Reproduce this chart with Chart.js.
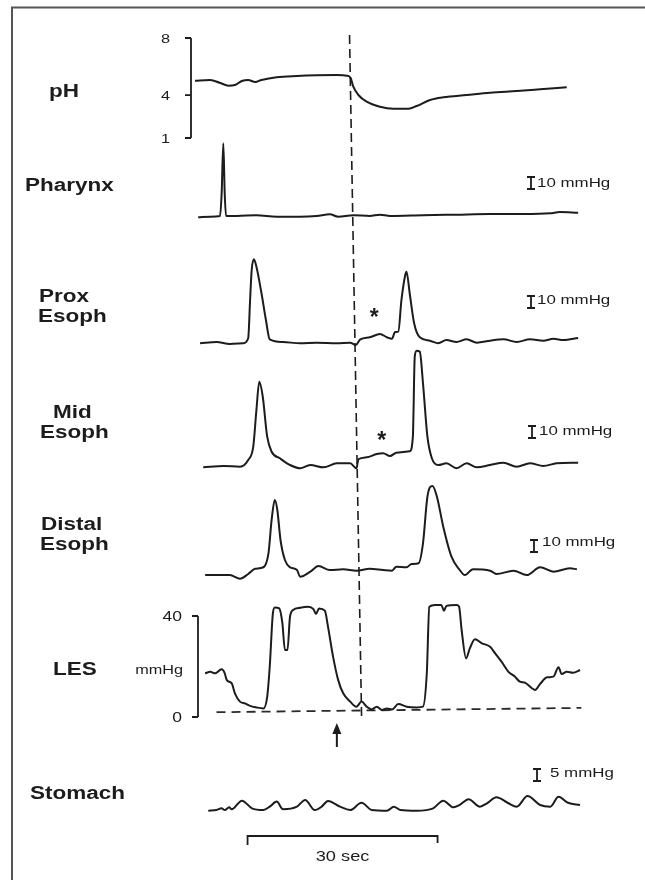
<!DOCTYPE html>
<html>
<head>
<meta charset="utf-8">
<title>Esophageal pH and manometry during a reflux episode</title>
<script src="https://cdn.jsdelivr.net/npm/chart.js@4.4.1/dist/chart.umd.min.js"></script>
<style>
  html, body { margin: 0; padding: 0; background: #fff; }
  canvas { display: block; }
</style>
</head>
<body>
<canvas id="trace" width="645" height="880"></canvas>
<script>
// time in seconds from the start of the strip, pressures in mmHg above resting baseline
const phTime = [0, 2.4, 3.9, 5.3, 6.3, 7.4, 8.4, 9.5, 10.5, 12.9, 16.1, 19.2, 22.4, 24.0, 24.6, 25.0, 25.8, 27.1, 29.2, 31.3, 33.7, 35.0, 37.1, 39.2, 42.9, 46.6, 50.8, 54.5, 58.7];
const phValue = [5.01, 5.06, 4.87, 4.66, 4.71, 4.99, 5.06, 4.92, 5.06, 5.25, 5.34, 5.39, 5.41, 5.36, 5.18, 4.59, 4.01, 3.54, 3.19, 3.05, 3.05, 3.24, 3.66, 3.85, 4.01, 4.17, 4.29, 4.41, 4.55];

const pharynxTime = [0.5, 2.4, 3.95, 4.21, 4.47, 4.69, 4.9, 6.6, 9.7, 12.9, 16.6, 19.2, 21.3, 22.6, 25.0, 27.6, 29.2, 30.8, 36.0, 41.3, 46.6, 51.8, 56.1, 57.6, 60.5];
const pharynxValue = [-0.5, 0, 0.6, 19.5, 61.2, 19.5, 0.6, 0.6, 1.2, 0, 0, 0.6, 2.0, 0, 1.2, 0.6, 1.7, 0.6, 1.2, 1.7, 2.2, 2.2, 2.8, 3.9, 3.3];

const proxTime = [0.8, 3.4, 5.5, 7.6, 8.4, 8.7, 8.95, 9.3, 9.7, 10.5, 11.2, 11.8, 13.9, 16.6, 19.2, 22.4, 24.5, 25.4, 26.1, 27.6, 29.2, 30.3, 31.1, 31.6, 32.1, 32.6, 33.2, 33.4, 33.9, 34.6, 35.5, 37.1, 38.4, 39.7, 41.3, 42.9, 44.5, 46.6, 48.7, 50.8, 52.9, 55.0, 56.6, 58.2, 60.5];
const proxValue = [-0.5, 0.6, -1.1, -0.5, 3.7, 35.6, 60.6, 69.5, 63.3, 41.2, 18.9, 2.8, 0.6, -0.5, 0, -0.5, 0, -1.9, 2.8, 4.5, 7.3, 4.5, 3.3, 8.9, 9.2, 35.6, 56.4, 59.2, 41.2, 16.2, 4.5, 1.7, -0.5, 2.2, 0.6, 2.8, 0, 1.7, 2.8, 0.6, 2.8, 1.7, 3.3, 2.2, 3.9];

const midTime = [1.3, 4.5, 7.1, 8.4, 9.2, 9.7, 10.15, 10.7, 11.4, 12.1, 13.4, 15.0, 16.6, 18.2, 20.3, 22.4, 24.5, 25.5, 25.8, 27.1, 28.7, 29.7, 30.8, 31.8, 33.9, 34.4, 34.7, 35.0, 35.5, 36.0, 36.7, 37.4, 38.4, 39.7, 41.3, 42.9, 44.5, 46.6, 48.7, 50.8, 52.9, 55.0, 57.1, 60.5];
const midValue = [-0.5, 0.6, 0, 5.6, 16.7, 47.3, 70.8, 58.3, 25.0, 12.5, 7.0, 1.4, -1.3, 1.4, -0.5, 2.8, 2.8, -1.3, 6.2, 7.8, 10.6, 11.2, 8.9, 11.7, 12.8, 25.0, 91.7, 96.7, 95.8, 69.5, 25.0, 7.0, 1.4, 2.8, -1.3, 2.8, -0.5, 1.4, 3.3, 0, 2.8, 0.6, 2.8, 3.3];

const distalTime = [1.6, 5.5, 7.1, 8.4, 9.5, 10.8, 11.6, 12.1, 12.6, 13.0, 13.5, 14.2, 15.0, 16.1, 16.6, 18.2, 19.5, 21.3, 23.4, 25.5, 27.6, 29.7, 31.1, 31.8, 33.4, 34.2, 35.3, 36.0, 36.7, 37.5, 38.2, 39.2, 40.5, 41.8, 42.6, 43.9, 46.6, 47.6, 50.3, 52.4, 54.5, 56.6, 59.2, 60.3];
const distalValue = [-4.2, -4.2, -7.3, -3.3, 1.1, 2.3, 13.9, 41.7, 58.3, 50.0, 25.0, 8.3, 2.3, 0, -5.6, -1.4, 3.3, 0, 0.6, -0.6, 1.1, 0, -0.6, 2.8, 2.3, 5.0, 5.6, 22.2, 61.1, 70.0, 61.1, 36.1, 11.1, 0, -4.2, 0.6, -0.6, -3.3, -0.6, -4.2, 2.3, -1.4, 1.4, 0.6];

const lesTime = [1.6, 2.4, 3.2, 4.2, 4.7, 5.0, 5.8, 6.3, 7.1, 7.9, 8.7, 9.7, 10.8, 11.4, 11.8, 12.3, 12.6, 13.3, 13.8, 14.2, 14.6, 15.0, 15.5, 16.6, 17.9, 18.7, 19.1, 19.6, 20.5, 21.0, 21.8, 22.6, 23.4, 24.5, 25.5, 26.3, 27.1, 27.9, 28.7, 29.5, 30.3, 31.1, 32.1, 33.4, 35.0, 36.0, 36.6, 37.0, 37.9, 38.9, 39.3, 39.7, 41.3, 41.7, 42.1, 42.8, 43.4, 44.2, 45.3, 46.6, 47.4, 48.4, 49.5, 50.5, 51.3, 52.1, 53.2, 53.7, 54.5, 55.6, 56.6, 57.4, 57.9, 58.7, 59.7, 60.8];
const lesValue = [17.3, 17.9, 17.3, 18.9, 17.3, 14.7, 13.3, 9.4, 6.1, 5.4, 4.4, 3.8, 3.4, 8.0, 19.9, 41.1, 43.4, 43.0, 37.1, 26.5, 26.5, 39.7, 42.4, 43.3, 43.7, 42.7, 40.8, 43.0, 42.1, 35.8, 23.9, 14.7, 9.4, 6.1, 4.1, 6.1, 4.1, 3.0, 4.1, 2.8, 3.4, 3.0, 5.1, 4.1, 3.8, 4.1, 17.3, 43.7, 44.4, 44.4, 42.1, 44.0, 44.4, 43.7, 34.5, 23.2, 27.2, 30.8, 29.2, 27.8, 25.2, 21.9, 17.9, 16.0, 14.0, 13.6, 11.4, 10.7, 13.1, 15.7, 16.0, 19.7, 17.0, 17.9, 17.5, 18.6];
// gastric reference line drawn dashed under the LES trace
const lesBaseTime = [3.4, 61.0];
const lesBaseValue = [1.9, 3.6];

const stomachTime = [2.1, 3.4, 4.2, 4.7, 5.4, 5.8, 7.4, 9.0, 10.8, 11.8, 12.9, 13.9, 16.1, 17.4, 18.9, 20.0, 21.0, 22.9, 24.5, 26.3, 27.9, 30.3, 31.4, 32.4, 35.0, 37.6, 39.2, 40.8, 41.8, 43.2, 45.0, 46.1, 47.6, 49.5, 50.8, 52.5, 54.5, 56.1, 57.4, 58.9, 60.8];
const stomachValue = [-0.3, 0, 0.7, 0, 1.1, 0.3, 3.9, 0.7, 0, 1.4, 3.5, 0.3, 1.4, 4.2, 0, 1.4, 3.8, 1.4, 0, 3.0, 0, -0.3, 1.4, 0, -0.3, 0.7, 3.9, 1.1, 2.1, 4.5, 1.4, 2.8, 5.3, 2.8, 1.4, 5.8, 2.1, 1.4, 5.5, 3.0, 2.1];

const phTicks = [8, 4, 1];
const lesTicks = [40, 0];

const refluxOnset = { top: 24.4, bottom: 26.3 };   // dashed marker, slightly slanted on the paper
const arrowTime = 22.4;
const timeBar = { start: 8.3, length: 30, label: '30 sec' };
const asterisks = [{ axis: 'yProx', t: 28.3, v: 25.6 }, { axis: 'yMid', t: 29.5, v: 26.4 }];

// ---- page layout ----
const W = 645, H = 880;
const pxPerSec = 6.333, startX = 195;
const FONT = '"Liberation Sans", Arial, Helvetica, sans-serif';
const INK = '#1c1c1c';

// each channel gets its own y axis covering the whole canvas; two calibration points place it
const channels = [
  { axis: 'yPH', time: phTime, value: phValue, cal: [8, 38, 1, 138],
    label: [['pH', 49, 97]] },
  { axis: 'yPhar', time: pharynxTime, value: pharynxValue, cal: [0, 216.7, 10, 204.7],
    label: [['Pharynx', 25, 191]], bar: { units: 10, text: '10 mmHg', x: 531, bottom: 189, tx: 537, ty: 187 } },
  { axis: 'yProx', time: proxTime, value: proxValue, cal: [0, 342.7, 10, 330.7],
    label: [['Prox', 39, 302], ['Esoph', 38, 322]], bar: { units: 10, text: '10 mmHg', x: 531, bottom: 308, tx: 537, ty: 304 } },
  { axis: 'yMid', time: midTime, value: midValue, cal: [0, 466.7, 10, 454.7],
    label: [['Mid', 53, 418], ['Esoph', 40, 438]], bar: { units: 10, text: '10 mmHg', x: 532, bottom: 438, tx: 539, ty: 435 } },
  { axis: 'yDist', time: distalTime, value: distalValue, cal: [0, 570, 10, 558],
    label: [['Distal', 41, 530], ['Esoph', 40, 550]], bar: { units: 10, text: '10 mmHg', x: 534, bottom: 552, tx: 542, ty: 546 } },
  { axis: 'yLES', time: lesTime, value: lesValue, cal: [40, 616, 0, 717],
    label: [['LES', 53, 675]] },
  { axis: 'ySto', time: stomachTime, value: stomachValue, cal: [0, 810, 5, 798],
    label: [['Stomach', 30, 799]], bar: { units: 5, text: '5 mmHg', x: 537, bottom: 781, tx: 550, ty: 777 } }
];

function calibrate(v1, p1, v2, p2) {
  const s = (p2 - p1) / (v1 - v2);
  return { min: v1 - (H - p1) / s, max: v1 + p1 / s };
}

function points(ts, vs) {
  return ts.map((t, i) => ({ x: t, y: vs[i] }));
}

function stretchText(ctx, text, x, y, size, weight, align, stretch) {
  ctx.save();
  ctx.translate(x, y);
  ctx.scale(stretch, 1);
  ctx.font = weight + ' ' + size + 'px ' + FONT;
  ctx.textAlign = align;
  ctx.textBaseline = 'alphabetic';
  ctx.fillStyle = INK;
  ctx.fillText(text, 0, 0);
  ctx.restore();
}

const scales = {
  x: { type: 'linear', display: false, min: -startX / pxPerSec, max: (W - startX) / pxPerSec }
};
channels.forEach(c => {
  scales[c.axis] = Object.assign({ type: 'linear', display: false }, calibrate(...c.cal));
});

const datasets = channels.map(c => ({
  data: points(c.time, c.value),
  yAxisID: c.axis,
  borderColor: INK,
  borderWidth: 2,
  pointRadius: 0,
  fill: false,
  cubicInterpolationMode: 'monotone'
}));
datasets.push({
  data: points(lesBaseTime, lesBaseValue),
  yAxisID: 'yLES',
  borderColor: '#2a2a2a',
  borderWidth: 1.8,
  borderDash: [9, 6],
  pointRadius: 0,
  fill: false
});

const decorations = {
  id: 'decorations',
  afterDatasetsDraw(chart) {
    const ctx = chart.ctx;
    const xs = chart.scales.x;
    ctx.save();
    ctx.lineCap = 'butt';

    // page frame
    ctx.strokeStyle = '#555';
    ctx.lineWidth = 2;
    ctx.beginPath();
    ctx.moveTo(12, H); ctx.lineTo(12, 7.5); ctx.lineTo(W, 7.5);
    ctx.stroke();
    ctx.strokeStyle = INK;

    // reflux marker
    ctx.setLineDash([9, 5]);
    ctx.lineWidth = 1.6;
    ctx.beginPath();
    ctx.moveTo(xs.getPixelForValue(refluxOnset.top), 35);
    ctx.lineTo(xs.getPixelForValue(refluxOnset.bottom), 716);
    ctx.stroke();
    ctx.setLineDash([]);

    // labelled axes for pH and LES
    [{ axis: 'yPH', ticks: phTicks, x: 191, lx: 170, size: 13 },
     { axis: 'yLES', ticks: lesTicks, x: 198, lx: 182, size: 14 }].forEach(b => {
      const ys = chart.scales[b.axis];
      const y0 = ys.getPixelForValue(b.ticks[0]);
      const y1 = ys.getPixelForValue(b.ticks[b.ticks.length - 1]);
      ctx.lineWidth = 1.8;
      ctx.beginPath();
      ctx.moveTo(b.x, y0); ctx.lineTo(b.x, y1);
      b.ticks.forEach(v => {
        const y = ys.getPixelForValue(v);
        ctx.moveTo(b.x - 6, y); ctx.lineTo(b.x, y);
      });
      ctx.stroke();
      b.ticks.forEach(v => {
        stretchText(ctx, String(v), b.lx, ys.getPixelForValue(v) + b.size * 0.36, b.size, 'normal', 'right', 1.25);
      });
    });
    stretchText(ctx, 'mmHg', 183, 674, 13, 'normal', 'right', 1.25);

    // channel names and calibration bars
    channels.forEach(c => {
      c.label.forEach(([txt, x, y]) => stretchText(ctx, txt, x, y, 18, 'bold', 'left', 1.25));
      if (!c.bar) return;
      const ys = chart.scales[c.axis];
      const h = ys.getPixelForValue(0) - ys.getPixelForValue(c.bar.units);
      const b = c.bar;
      ctx.lineWidth = 1.8;
      ctx.beginPath();
      ctx.moveTo(b.x, b.bottom); ctx.lineTo(b.x, b.bottom - h);
      ctx.moveTo(b.x - 4, b.bottom); ctx.lineTo(b.x + 4, b.bottom);
      ctx.moveTo(b.x - 4, b.bottom - h); ctx.lineTo(b.x + 4, b.bottom - h);
      ctx.stroke();
      stretchText(ctx, b.text, b.tx, b.ty, 13, 'normal', 'left', 1.3);
    });

    // asterisks over the small pressure rises
    asterisks.forEach(a => {
      const px = xs.getPixelForValue(a.t);
      const py = chart.scales[a.axis].getPixelForValue(a.v);
      stretchText(ctx, '*', px, py + 13, 23, 'bold', 'center', 1);
    });

    // arrow under the LES trace
    const ax = xs.getPixelForValue(arrowTime);
    ctx.fillStyle = INK;
    ctx.lineWidth = 2;
    ctx.beginPath();
    ctx.moveTo(ax, 732); ctx.lineTo(ax, 747);
    ctx.stroke();
    ctx.beginPath();
    ctx.moveTo(ax, 723); ctx.lineTo(ax - 4.5, 734); ctx.lineTo(ax + 4.5, 734);
    ctx.closePath();
    ctx.fill();

    // time calibration bracket
    const bx0 = xs.getPixelForValue(timeBar.start);
    const bx1 = xs.getPixelForValue(timeBar.start + timeBar.length);
    ctx.lineWidth = 1.8;
    ctx.beginPath();
    ctx.moveTo(bx0, 845); ctx.lineTo(bx0, 836); ctx.lineTo(bx1, 836); ctx.lineTo(bx1, 843);
    ctx.stroke();
    stretchText(ctx, timeBar.label, (bx0 + bx1) / 2, 861, 14, 'normal', 'center', 1.3);

    ctx.restore();
  }
};

new Chart(document.getElementById('trace'), {
  type: 'line',
  data: { datasets },
  options: {
    responsive: false,
    animation: false,
    devicePixelRatio: 1,
    events: [],
    layout: { padding: 0 },
    scales,
    plugins: {
      legend: { display: false },
      tooltip: { enabled: false }
    }
  },
  plugins: [decorations]
});
</script>
</body>
</html>
